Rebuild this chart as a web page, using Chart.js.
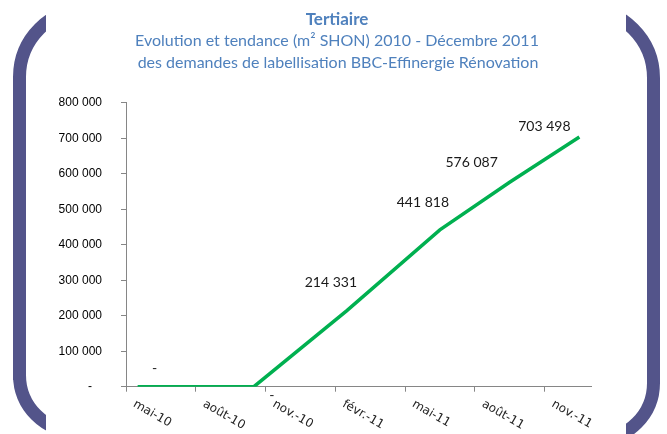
<!DOCTYPE html>
<html>
<head>
<meta charset="utf-8">
<script src="https://cdn.jsdelivr.net/npm/chart.js@4.4.0/dist/chart.umd.min.js"></script>
<style>
  body { margin: 0; background: #fff; }
  #wrap { width: 667px; height: 434px; position: relative; }
</style>
</head>
<body>
<div id="wrap"><canvas id="graphTertiaire"></canvas></div>
<script>
// mois comptés depuis mai 2010
const moisTicks = [0, 3, 6, 9, 12, 15, 18];
const labelsMois = ["mai-10", "août-10", "nov.-10", "févr.-11", "mai-11", "août-11", "nov.-11"];
const moisPoints = [0, 5, 9, 13, 16, 19];
const surfaces = [0, 0, 214331, 441818, 576087, 703498];
const etiquettes = ["-", "-", "214 331", "441 818", "576 087", "703 498"];

const titre = "Tertiaire";
const sousTitre = [
  "Evolution et tendance (m² SHON) 2010 - Décembre 2011",
  "des demandes de labellisation BBC-Effinergie Rénovation",
];

// décalage des étiquettes (px) par rapport au point
const decalEtiquettes = [[17, -18], [18, 9], [-16, -28], [-17, -27], [-38, -20], [-35, -10]];

const bleuTitre = "#4f81bd";
const gris = "#868686";

const cadre = {
  id: "cadre",
  beforeDraw(chart) {
    const ctx = chart.ctx;
    ctx.save();
    ctx.beginPath();
    ctx.rect(0, 0, 46, 434);
    ctx.rect(626, 0, 41, 434);
    ctx.clip();
    ctx.strokeStyle = "#53548a";
    ctx.lineWidth = 13;
    ctx.beginPath();
    ctx.moveTo(120, 8.5);
    ctx.arcTo(19.5, 8.5, 19.5, 120, 68.5);
    ctx.lineTo(19.5, 380);
    ctx.arcTo(19.5, 431.5, 120, 431.5, 56.5);
    ctx.lineTo(120, 431.5);
    ctx.stroke();
    ctx.beginPath();
    ctx.moveTo(560, 8.5);
    ctx.arcTo(653.5, 8.5, 653.5, 120, 69.5);
    ctx.lineTo(653.5, 380);
    ctx.arcTo(653.5, 439.5, 560, 439.5, 56.5);
    ctx.lineTo(560, 439.5);
    ctx.stroke();
    ctx.restore();
  },
};

const titres = {
  id: "titres",
  afterDraw(chart) {
    const ctx = chart.ctx;
    ctx.save();
    ctx.fillStyle = bleuTitre;
    ctx.textAlign = "center";
    ctx.textBaseline = "alphabetic";
    ctx.font = 'bold 17px "Lato"';
    ctx.fillText(titre, 337, 25);
    ctx.font = '16px "Lato"';
    ctx.fillText(sousTitre[0], 337, 46);
    ctx.fillText(sousTitre[1], 338, 68);
    ctx.restore();
  },
};

const labelsX = {
  id: "labelsX",
  afterDraw(chart) {
    const ctx = chart.ctx;
    const xs = chart.scales.x;
    ctx.save();
    ctx.font = '12px "DejaVu Sans"';
    ctx.fillStyle = "#262626";
    ctx.textAlign = "left";
    ctx.textBaseline = "top";
    moisTicks.forEach((m, i) => {
      const px = xs.getPixelForValue(m);
      ctx.save();
      ctx.translate(px + 11, 398);
      ctx.rotate((30 * Math.PI) / 180);
      ctx.fillText(labelsMois[i], 0, 0);
      ctx.restore();
    });
    ctx.restore();
  },
};

const etiquettesPoints = {
  id: "etiquettesPoints",
  afterDatasetsDraw(chart) {
    const ctx = chart.ctx;
    const meta = chart.getDatasetMeta(0);
    ctx.save();
    ctx.font = '14px "Lato"';
    ctx.fillStyle = "#1a1a1a";
    ctx.textAlign = "center";
    ctx.textBaseline = "middle";
    meta.data.forEach((pt, i) => {
      ctx.fillText(etiquettes[i], pt.x + decalEtiquettes[i][0], pt.y + decalEtiquettes[i][1]);
    });
    ctx.restore();
  },
};

const config = {
  type: "line",
  data: {
    datasets: [
      {
        data: moisPoints.map((m, i) => ({ x: m + 0.5, y: surfaces[i] })),
        borderColor: "#00b050",
        borderWidth: 3.5,
        pointRadius: 0,
        tension: 0,
        fill: false,
      },
    ],
  },
  options: {
    responsive: true,
    maintainAspectRatio: false,
    animation: false,
    layout: { padding: { top: 102.7, right: 76, bottom: 0, left: 0 } },
    scales: {
      x: {
        type: "linear",
        min: 0,
        max: 20,
        afterBuildTicks: (s) => {
          s.ticks = moisTicks.map((v) => ({ value: v }));
        },
        afterFit: (s) => {
          s.height = 47.3;
        },
        ticks: { display: false },
        grid: { drawOnChartArea: false, tickLength: 5, color: gris },
        border: { color: gris },
      },
      y: {
        min: 0,
        max: 800000,
        afterFit: (s) => {
          s.width = 126;
        },
        ticks: {
          stepSize: 100000,
          padding: 19,
          color: "#000",
          font: { family: "Liberation Sans", size: 12 },
          callback: (v) => (v === 0 ? "-   " : v / 1000 + " 000"),
        },
        grid: { drawOnChartArea: false, tickLength: 5, color: gris },
        border: { color: gris },
      },
    },
    plugins: {
      legend: { display: false },
      tooltip: { enabled: false },
    },
  },
  plugins: [cadre, titres, labelsX, etiquettesPoints],
};

const graphTertiaire = new Chart(document.getElementById("graphTertiaire"), config);
</script>
</body>
</html>
